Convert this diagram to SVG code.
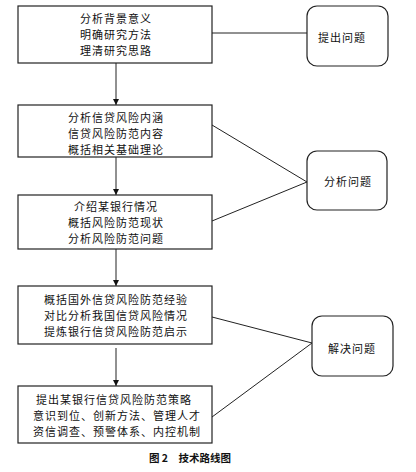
<svg xmlns="http://www.w3.org/2000/svg" width="416" height="472" viewBox="0 0 416 472">
<defs>
<style>
.box{fill:#fff;stroke:#222;stroke-width:1.2}
.rbox{fill:#fff;stroke:#222;stroke-width:1.2}
.t{font-family:"Noto Sans CJK SC","Noto Sans",sans-serif;font-size:11px;letter-spacing:1px;fill:#111;text-anchor:middle;dominant-baseline:central}
.ln{stroke:#222;stroke-width:1;fill:none}
.cap{font-family:"Noto Sans CJK SC","Noto Sans",sans-serif;font-size:10.5px;font-weight:bold;fill:#111;text-anchor:middle;dominant-baseline:central}
</style>
<marker id="ah" viewBox="0 0 10 10" refX="10" refY="5" markerWidth="6" markerHeight="7" markerUnits="userSpaceOnUse" orient="auto">
<path d="M0,0 L10,5 L0,10 Z" fill="#111"/>
</marker>
</defs>
<rect width="416" height="472" fill="#fff"/>
<g id="connectors">
<line class="ln" x1="116" y1="63" x2="116" y2="105" marker-end="url(#ah)"/>
<line class="ln" x1="116" y1="157" x2="116" y2="195" marker-end="url(#ah)"/>
<line class="ln" x1="116" y1="249" x2="116" y2="286" marker-end="url(#ah)"/>
<line class="ln" x1="116" y1="348" x2="116" y2="386" marker-end="url(#ah)"/>
<line class="ln" x1="212" y1="33" x2="307" y2="33"/>
<line class="ln" x1="212" y1="125" x2="307" y2="182"/>
<line class="ln" x1="212" y1="221" x2="307" y2="182"/>
<line class="ln" x1="212" y1="317" x2="312" y2="343"/>
<line class="ln" x1="212" y1="417" x2="312" y2="343"/>
</g>
<g id="n1">
<rect class="box" x="18" y="6" width="194" height="57"/>
<text class="t" x="116" y="18">分析背景意义</text>
<text class="t" x="116" y="34">明确研究方法</text>
<text class="t" x="116" y="50">理清研究思路</text>
</g>
<g id="n2">
<rect class="box" x="18" y="105" width="194" height="52"/>
<text class="t" x="116" y="117">分析信贷风险内涵</text>
<text class="t" x="116" y="133">信贷风险防范内容</text>
<text class="t" x="116" y="149">概括相关基础理论</text>
</g>
<g id="n3">
<rect class="box" x="18" y="195" width="194" height="54"/>
<text class="t" x="116" y="206">介绍某银行情况</text>
<text class="t" x="116" y="222">概括风险防范现状</text>
<text class="t" x="116" y="238">分析风险防范问题</text>
</g>
<g id="n4">
<rect class="box" x="18" y="286" width="194" height="58"/>
<text class="t" x="116" y="299">概括国外信贷风险防范经验</text>
<text class="t" x="116" y="315">对比分析我国信贷风险情况</text>
<text class="t" x="116" y="331">提炼银行信贷风险防范启示</text>
</g>
<g id="n5">
<rect class="box" x="18" y="386" width="194" height="57"/>
<text class="t" x="114" y="399">提出某银行信贷风险防范策略</text>
<text class="t" x="117" y="415">意识到位、创新方法、管理人才</text>
<text class="t" x="117" y="431">资信调查、预警体系、内控机制</text>
</g>
<g id="r1">
<rect class="rbox" x="307" y="6" width="81" height="60" rx="10" ry="10"/>
<text class="t" x="342" y="37">提出问题</text>
</g>
<g id="r2">
<rect class="rbox" x="307" y="151" width="80" height="59" rx="10" ry="10"/>
<text class="t" x="348" y="181">分析问题</text>
</g>
<g id="r3">
<rect class="rbox" x="312" y="316" width="81" height="60" rx="10" ry="10"/>
<text class="t" x="352" y="348">解决问题</text>
</g>
<text class="cap" x="190" y="457">图 2　技术路线图</text>
</svg>
